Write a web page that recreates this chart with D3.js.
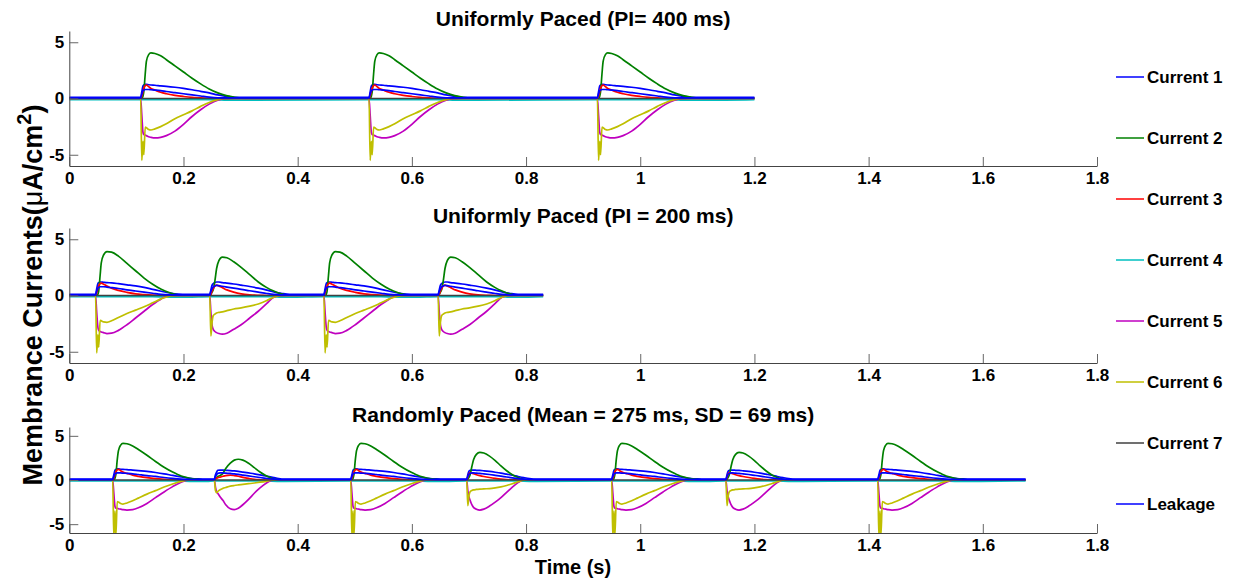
<!DOCTYPE html>
<html><head><meta charset="utf-8">
<script src="https://cdn.jsdelivr.net/npm/d3@7"></script>
<style>
html,body{margin:0;padding:0;background:#fff;}
svg text{font-family:"Liberation Sans",Arial,sans-serif;font-weight:bold;fill:#000;}
</style></head>
<body>
<svg id="chart" width="1233" height="578"></svg>
<script>
// ---------------- DATA ----------------
const seriesNames = ["Current 1","Current 2","Current 3","Current 4","Current 5","Current 6","Current 7","Leakage"];
const seriesColors = ["#0000ff","#008000","#ff0000","#00bfbf","#bf00bf","#bfbf00","#404040","#0000ff"];
const xTickValues = [0,0.2,0.4,0.6,0.8,1,1.2,1.4,1.6,1.8];
const xTickLabels = ["0","0.2","0.4","0.6","0.8","1","1.2","1.4","1.6","1.8"];
const yTickValues = [-5,0,5];
const yTickLabels = ["-5","0","5"];
const panelTitles = ["Uniformly Paced (PI= 400 ms)","Uniformly Paced (PI = 200 ms)","Randomly Paced (Mean = 275 ms, SD = 69 ms)"];

// Beat waveforms: [ms after onset, C1, C2, C3, C4, C5, C6, C7, Leakage]
const beatFull400 = [
 [0,   0.10,0.00,0.00,-0.10, 0.00, 0.00,0,0.05],
 [2,   0.60,0.00,0.20,-0.10,-1.50,-5.50,0,0.40],
 [4,   1.10,0.20,0.60,-0.10,-3.00,-3.80,0,0.70],
 [5.5, 1.20,0.60,0.90,-0.10,-3.20,-5.00,0,0.75],
 [8,   1.25,2.20,1.15,-0.10,-3.25,-2.55,0,0.80],
 [10,  1.25,3.30,1.20,-0.10,-3.30,-2.60,0,0.80],
 [14,  1.22,3.90,1.05,-0.10,-3.40,-2.75,0,0.80],
 [18,  1.20,4.05,0.90,-0.10,-3.45,-2.80,0,0.78],
 [25,  1.18,4.00,0.75,-0.10,-3.50,-2.70,0,0.75],
 [35,  1.12,3.80,0.55,-0.10,-3.45,-2.50,0,0.70],
 [45,  1.08,3.45,0.42,-0.10,-3.30,-2.25,0,0.62],
 [60,  1.00,2.90,0.28,-0.10,-2.90,-1.80,0,0.52],
 [75,  0.90,2.35,0.18,-0.10,-2.30,-1.45,0,0.42],
 [90,  0.78,1.80,0.10,-0.10,-1.60,-1.10,0,0.32],
 [105, 0.64,1.30,0.05,-0.10,-1.00,-0.70,0,0.22],
 [120, 0.50,0.85,0.00,-0.10,-0.50,-0.35,0,0.12],
 [135, 0.32,0.50,-0.03,-0.12,-0.15,-0.10,0,0.06],
 [150, 0.20,0.25,-0.03,-0.15,0.00,0.00,0,0.05],
 [165, 0.10,0.10,0.00,-0.15,0.00,0.00,0,0.05],
 [185, 0.10,0.00,0.00,-0.15,0.00,0.00,0,0.05]
];
const beatFull200 = [
 [0,   0.10,0.00,0.00,-0.10, 0.00, 0.00,0,0.05],
 [2,   0.60,0.00,0.20,-0.10,-1.50,-5.10,0,0.40],
 [4,   1.05,0.10,0.60,-0.10,-2.80,-3.50,0,0.65],
 [5.5, 1.15,0.40,0.85,-0.10,-3.10,-4.60,0,0.72],
 [8,   1.20,1.80,1.05,-0.10,-3.20,-2.20,0,0.78],
 [10,  1.20,2.90,1.10,-0.10,-3.25,-2.25,0,0.78],
 [14,  1.18,3.60,1.00,-0.10,-3.30,-2.35,0,0.78],
 [20,  1.15,3.90,0.85,-0.10,-3.38,-2.38,0,0.75],
 [28,  1.12,3.85,0.65,-0.10,-3.35,-2.25,0,0.70],
 [40,  1.05,3.50,0.45,-0.10,-3.10,-1.95,0,0.62],
 [55,  0.95,2.85,0.28,-0.10,-2.60,-1.60,0,0.50],
 [70,  0.85,2.20,0.15,-0.10,-2.00,-1.30,0,0.40],
 [85,  0.72,1.55,0.08,-0.10,-1.40,-1.00,0,0.30],
 [100, 0.55,1.00,0.03,-0.10,-0.80,-0.65,0,0.20],
 [115, 0.38,0.55,0.00,-0.12,-0.30,-0.30,0,0.10],
 [130, 0.22,0.25,-0.03,-0.15,0.00,-0.05,0,0.06],
 [145, 0.12,0.05,-0.02,-0.15,0.00,0.00,0,0.05],
 [160, 0.10,0.00,0.00,-0.15,0.00,0.00,0,0.05]
];
const beatAlt200 = [
 [0,   0.10,0.00,0.00,-0.10, 0.00, 0.00,0,0.05],
 [2,   0.50,0.10,0.10,-0.10,-1.50,-3.60,0,0.35],
 [4,   0.90,0.30,0.40,-0.10,-2.60,-2.40,0,0.60],
 [6,   1.05,0.50,0.60,-0.10,-3.00,-1.80,0,0.75],
 [9,   1.15,1.30,0.85,-0.10,-3.20,-1.65,0,0.85],
 [12,  1.20,2.40,0.92,-0.10,-3.30,-1.55,0,0.90],
 [16,  1.20,3.10,0.85,-0.10,-3.38,-1.50,0,0.88],
 [22,  1.15,3.42,0.70,-0.10,-3.44,-1.45,0,0.82],
 [30,  1.10,3.35,0.50,-0.10,-3.35,-1.35,0,0.75],
 [42,  1.02,3.00,0.30,-0.10,-3.00,-1.20,0,0.65],
 [55,  0.92,2.50,0.15,-0.10,-2.60,-1.10,0,0.55],
 [70,  0.80,1.85,0.06,-0.10,-2.00,-0.95,0,0.42],
 [85,  0.65,1.20,0.02,-0.10,-1.40,-0.75,0,0.30],
 [100, 0.48,0.70,0.00,-0.10,-0.70,-0.45,0,0.18],
 [112, 0.32,0.40,-0.03,-0.12,-0.15,-0.15,0,0.10],
 [125, 0.20,0.15,-0.03,-0.15,0.00,0.00,0,0.06],
 [140, 0.10,0.00,0.00,-0.15,0.00,0.00,0,0.05]
];
const beatRandFull = [
 [0,   0.10,0.00,0.00,-0.10, 0.00, 0.00,0,0.05],
 [2,   0.60,0.00,0.20,-0.10,-1.50,-6.50,0,0.40],
 [4,   1.10,0.20,0.60,-0.10,-3.00,-3.50,0,0.70],
 [5.5, 1.20,0.60,0.90,-0.10,-3.20,-6.30,0,0.75],
 [8,   1.25,2.30,1.15,-0.10,-3.20,-2.45,0,0.80],
 [10,  1.25,3.30,1.20,-0.10,-3.25,-2.50,0,0.80],
 [14,  1.22,3.95,1.05,-0.10,-3.30,-2.65,0,0.80],
 [18,  1.20,4.15,0.90,-0.10,-3.35,-2.72,0,0.78],
 [25,  1.18,4.10,0.75,-0.10,-3.40,-2.60,0,0.75],
 [35,  1.12,3.85,0.55,-0.10,-3.35,-2.35,0,0.70],
 [45,  1.06,3.45,0.42,-0.10,-3.15,-2.05,0,0.62],
 [60,  0.97,2.80,0.26,-0.10,-2.65,-1.60,0,0.50],
 [75,  0.85,2.10,0.15,-0.10,-2.00,-1.20,0,0.40],
 [90,  0.70,1.45,0.08,-0.10,-1.35,-0.80,0,0.28],
 [105, 0.52,0.90,0.03,-0.10,-0.75,-0.45,0,0.18],
 [120, 0.35,0.45,0.00,-0.12,-0.25,-0.15,0,0.10],
 [135, 0.20,0.20,-0.03,-0.15,0.00,0.00,0,0.06],
 [150, 0.12,0.05,-0.02,-0.15,0.00,0.00,0,0.05],
 [165, 0.10,0.00,0.00,-0.15,0.00,0.00,0,0.05]
];
const beatRandShort = [
 [0,   0.10,0.00,0.00,-0.10, 0.00, 0.00,0,0.05],
 [2,   0.60,0.20,0.10,-0.10,-0.80,-1.20,0,0.40],
 [4,   0.90,0.30,0.20,-0.10,-1.33,-1.44,0,0.60],
 [6,   1.10,0.40,0.25,-0.10,-1.50,-1.30,0,0.75],
 [10,  1.12,0.50,0.33,-0.10,-1.90,-1.10,0,0.80],
 [15,  1.12,0.75,0.42,-0.10,-2.30,-0.95,0,0.80],
 [20,  1.10,1.30,0.50,-0.10,-2.80,-0.85,0,0.78],
 [28,  1.07,1.90,0.55,-0.10,-3.25,-0.70,0,0.74],
 [35,  1.03,2.25,0.50,-0.10,-3.35,-0.62,0,0.70],
 [42,  0.98,2.35,0.42,-0.10,-3.20,-0.56,0,0.64],
 [50,  0.90,2.25,0.30,-0.10,-2.80,-0.50,0,0.56],
 [60,  0.80,1.90,0.18,-0.10,-2.20,-0.42,0,0.46],
 [70,  0.70,1.40,0.08,-0.10,-1.50,-0.34,0,0.37],
 [80,  0.58,0.90,0.03,-0.10,-0.90,-0.25,0,0.28],
 [90,  0.45,0.50,0.00,-0.12,-0.40,-0.15,0,0.20],
 [100, 0.32,0.20,-0.02,-0.14,-0.05,-0.03,0,0.12],
 [110, 0.20,0.05,-0.02,-0.15,0.00,0.00,0,0.07],
 [122, 0.10,0.00,0.00,-0.15,0.00,0.00,0,0.05]
];
const beatRandMid = [
 [0,   0.10,0.00,0.00,-0.10, 0.00, 0.00,0,0.05],
 [2,   0.60,0.10,0.30,-0.10,-1.20,-2.90,0,0.40],
 [4,   1.00,0.30,0.70,-0.10,-1.90,-1.80,0,0.65],
 [6,   1.10,0.60,0.85,-0.10,-2.30,-1.33,0,0.75],
 [9,   1.12,1.50,0.80,-0.10,-2.80,-1.20,0,0.80],
 [12,  1.12,2.30,0.70,-0.10,-3.10,-1.12,0,0.80],
 [17,  1.10,2.90,0.60,-0.10,-3.30,-1.07,0,0.78],
 [23,  1.08,3.12,0.50,-0.10,-3.40,-1.03,0,0.75],
 [30,  1.04,3.05,0.40,-0.10,-3.30,-1.00,0,0.70],
 [40,  0.97,2.70,0.28,-0.10,-2.95,-0.98,0,0.62],
 [50,  0.88,2.20,0.18,-0.10,-2.50,-0.90,0,0.53],
 [60,  0.78,1.60,0.10,-0.10,-2.00,-0.78,0,0.44],
 [70,  0.66,1.05,0.05,-0.10,-1.40,-0.62,0,0.34],
 [80,  0.54,0.60,0.02,-0.10,-0.80,-0.42,0,0.25],
 [90,  0.40,0.28,0.00,-0.12,-0.30,-0.20,0,0.16],
 [100, 0.27,0.08,-0.02,-0.14,0.00,-0.03,0,0.10],
 [110, 0.16,0.00,-0.02,-0.15,0.00,0.00,0,0.06],
 [122, 0.10,0.00,0.00,-0.15,0.00,0.00,0,0.05]
];

// Beat onsets (s) and the waveform of each beat, per panel
const onsets400 = [0.125, 0.525, 0.925];
const beats400 = [beatFull400, beatFull400, beatFull400];
const onsets200 = [0.046, 0.246, 0.446, 0.646];
const beats200 = [beatFull200, beatAlt200, beatFull200, beatAlt200];
const onsetsRandom = [0.076, 0.254, 0.493, 0.696, 0.950, 1.150, 1.416];
const beatsRandom = [beatRandFull, beatRandShort, beatRandFull, beatRandMid, beatRandFull, beatRandMid, beatRandFull];
const traceEnds = [1.2, 0.83, 1.675];

// ---------------- DRAWING ----------------
const svg = d3.select("#chart");
const xLeft = 69.3, xRight = 1097;
const panels = [
  {top: 31,  bottom: 166, onsets: onsets400,    beats: beats400,    end: traceEnds[0]},
  {top: 228, bottom: 363, onsets: onsets200,    beats: beats200,    end: traceEnds[1]},
  {top: 427, bottom: 533, onsets: onsetsRandom, beats: beatsRandom, end: traceEnds[2]}
];

function buildSeries(onsets, beats, end) {
  const base = beats[0][0];
  return seriesNames.map((_, k) => {
    const pts = [[0, base[k+1]]];
    onsets.forEach((t0, i) => {
      beats[i].forEach(r => pts.push([t0 + r[0]/1000, r[k+1]]));
    });
    pts.push([end, base[k+1]]);
    return pts;
  });
}

panels.forEach((p, pi) => {
  const x = d3.scaleLinear().domain([0, 1.8]).range([xLeft, xRight]);
  const y = d3.scaleLinear().domain([-6, 6]).range([p.bottom, p.top]);
  const g = svg.append("g");

  g.append("clipPath").attr("id", "clip" + pi)
    .append("rect").attr("x", xLeft).attr("y", p.top)
    .attr("width", xRight - xLeft).attr("height", p.bottom - p.top);

  const series = buildSeries(p.onsets, p.beats, p.end);
  const line = d3.line().x(d => x(d[0])).y(d => y(d[1])).curve(d3.curveMonotoneX);
  const lines = g.append("g").attr("clip-path", `url(#clip${pi})`);
  series.forEach((s, k) => {
    lines.append("path").datum(s).attr("d", line)
      .attr("fill", "none").attr("stroke", seriesColors[k])
      .attr("stroke-width", 1.7).attr("stroke-linejoin", "round");
  });

  // x axis (ticks inward)
  const xAxis = d3.axisBottom(x).tickValues(xTickValues)
    .tickFormat((d, i) => xTickLabels[i]).tickSize(-9).tickSizeOuter(0).tickPadding(6);
  const gx = g.append("g").attr("transform", `translate(0,${p.bottom})`).call(xAxis);
  gx.select(".domain").attr("stroke", "#444");
  gx.selectAll(".tick line").attr("stroke", "#666");
  gx.selectAll(".tick text").attr("font-size", 17).attr("font-family", "Liberation Sans, Arial, sans-serif")
    .attr("font-weight", "bold").attr("fill", "#000").attr("dy", "0.71em");

  // y axis (ticks inward)
  const yAxis = d3.axisLeft(y).tickValues(yTickValues)
    .tickFormat((d, i) => yTickLabels[i]).tickSize(-9).tickSizeOuter(0).tickPadding(5);
  const gy = g.append("g").attr("transform", `translate(${xLeft},0)`).call(yAxis);
  gy.select(".domain").attr("stroke", "#444");
  gy.selectAll(".tick line").attr("stroke", "#666");
  gy.selectAll(".tick text").attr("font-size", 17).attr("font-family", "Liberation Sans, Arial, sans-serif")
    .attr("font-weight", "bold").attr("fill", "#000");

  g.append("text").attr("x", (xLeft + xRight) / 2).attr("y", p.top - 5)
    .attr("text-anchor", "middle").attr("font-size", 21).text(panelTitles[pi]);
});

// x label
svg.append("text").attr("x", 573).attr("y", 574)
  .attr("text-anchor", "middle").attr("font-size", 20).text("Time (s)");

// y label
const yl = svg.append("text").attr("transform", "translate(42,295) rotate(-90)")
  .attr("text-anchor", "middle").attr("font-size", 27);
yl.append("tspan").text("Membrance Currents(");
yl.append("tspan").attr("font-weight", "normal").text("\u03bc");
yl.append("tspan").text("A/cm");
yl.append("tspan").attr("dy", -11).attr("font-size", 20).text("2");
yl.append("tspan").attr("dy", 11).text(")");

// legend
const legend = svg.append("g");
const legendY = d3.scalePoint().domain(seriesNames).range([77, 504]);
seriesNames.forEach((name, k) => {
  const yy = legendY(name);
  legend.append("line").attr("x1", 1116).attr("x2", 1144).attr("y1", yy).attr("y2", yy)
    .attr("stroke", seriesColors[k]).attr("stroke-width", 1.5);
  legend.append("text").attr("x", 1147).attr("y", yy).attr("dy", "0.35em")
    .attr("font-size", 17).text(name);
});
</script>
</body></html>
